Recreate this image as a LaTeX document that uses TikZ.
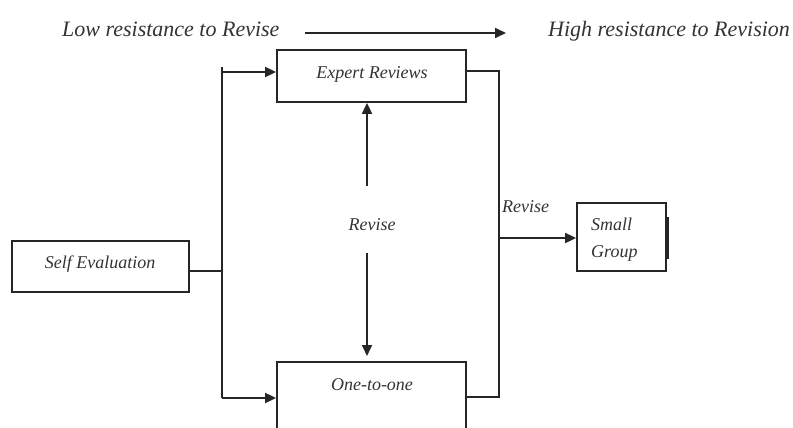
\documentclass[tikz,border=0pt]{standalone}
\usepackage{fontspec}
\setmainfont{Liberation Serif}
\usetikzlibrary{arrows.meta}
\definecolor{ink}{HTML}{262626}
\definecolor{txtc}{HTML}{333333}
\tikzset{
  box/.style={draw=ink, line width=1.8pt, fill=white, inner sep=0pt},
  conn/.style={draw=ink, line width=1.8pt},
  arr/.style={conn, -{Triangle[length=11pt,width=10pt]}},
  txt/.style={text=txtc, inner sep=0pt, anchor=base, font=\fontsize{18}{20}\selectfont\itshape},
  head/.style={text=txtc, inner sep=0pt, anchor=base west, font=\fontsize{22}{24}\selectfont\itshape},
}
\begin{document}
\begin{tikzpicture}[x=1pt,y=-1pt]
\useasboundingbox (0,0) rectangle (793,428);
% header
\node[head] (low) at (62,37) {Low resistance to Revise};
\node[head] (high) at (548,37) {High resistance to Revision};
\coordinate (ha) at (305,33);
\coordinate (hb) at (506,33);
\draw[arr] (ha) -- (hb);
% boxes
\node[box, minimum width=189pt, minimum height=52pt] (er) at (371.5,76) {};
\node[txt] (ert) at (372,78) {Expert Reviews};
\node[box, minimum width=177pt, minimum height=51pt] (se) at (100.5,266.5) {};
\node[txt] (set) at (100,268) {Self Evaluation};
\node[box, minimum width=189pt, minimum height=80pt] (oo) at (371.5,402) {};
\node[txt] (oot) at (372,390) {One-to-one};
\node[box, minimum width=89pt, minimum height=68pt] (sg) at (621.5,237) {};
\node[txt, anchor=base west] (sg1) at (591,230) {Small};
\node[txt, anchor=base west] (sg2) at (591,257) {Group};
\draw[ink, line width=3.5pt] ([yshift=-22pt]sg.east) -- ([yshift=20pt]sg.east);
% labels
\node[txt] (rv) at (372,230) {Revise};
\node[txt, anchor=base west] (rv2) at (502,212) {Revise};
% left trunk
\coordinate (lt) at (222,67);
\coordinate (lb) at (222,398);
\coordinate (lj) at (222,271);
\coordinate (la) at (222,72);
\draw[conn] (lt) -- (lb);
\draw[conn] (se.east |- lj) -- (lj);
\draw[arr] (la) -- (er.west |- la);
\draw[arr] (lb) -- (oo.west |- lb);
% right trunk
\coordinate (rt) at (499,71);
\coordinate (rb) at (499,397);
\coordinate (rm) at (499,238);
\draw[conn] (er.east |- rt) -- (rt) -- (rb) -- (oo.east |- rb);
\draw[arr] (rm) -- (sg.west |- rm);
% revise arrows
\coordinate (ua) at (367,186);
\coordinate (da) at (367,253);
\coordinate (db) at (367,356);
\draw[arr] (ua) -- (er.south -| ua);
\draw[arr] (da) -- (db);
\end{tikzpicture}
\end{document}
